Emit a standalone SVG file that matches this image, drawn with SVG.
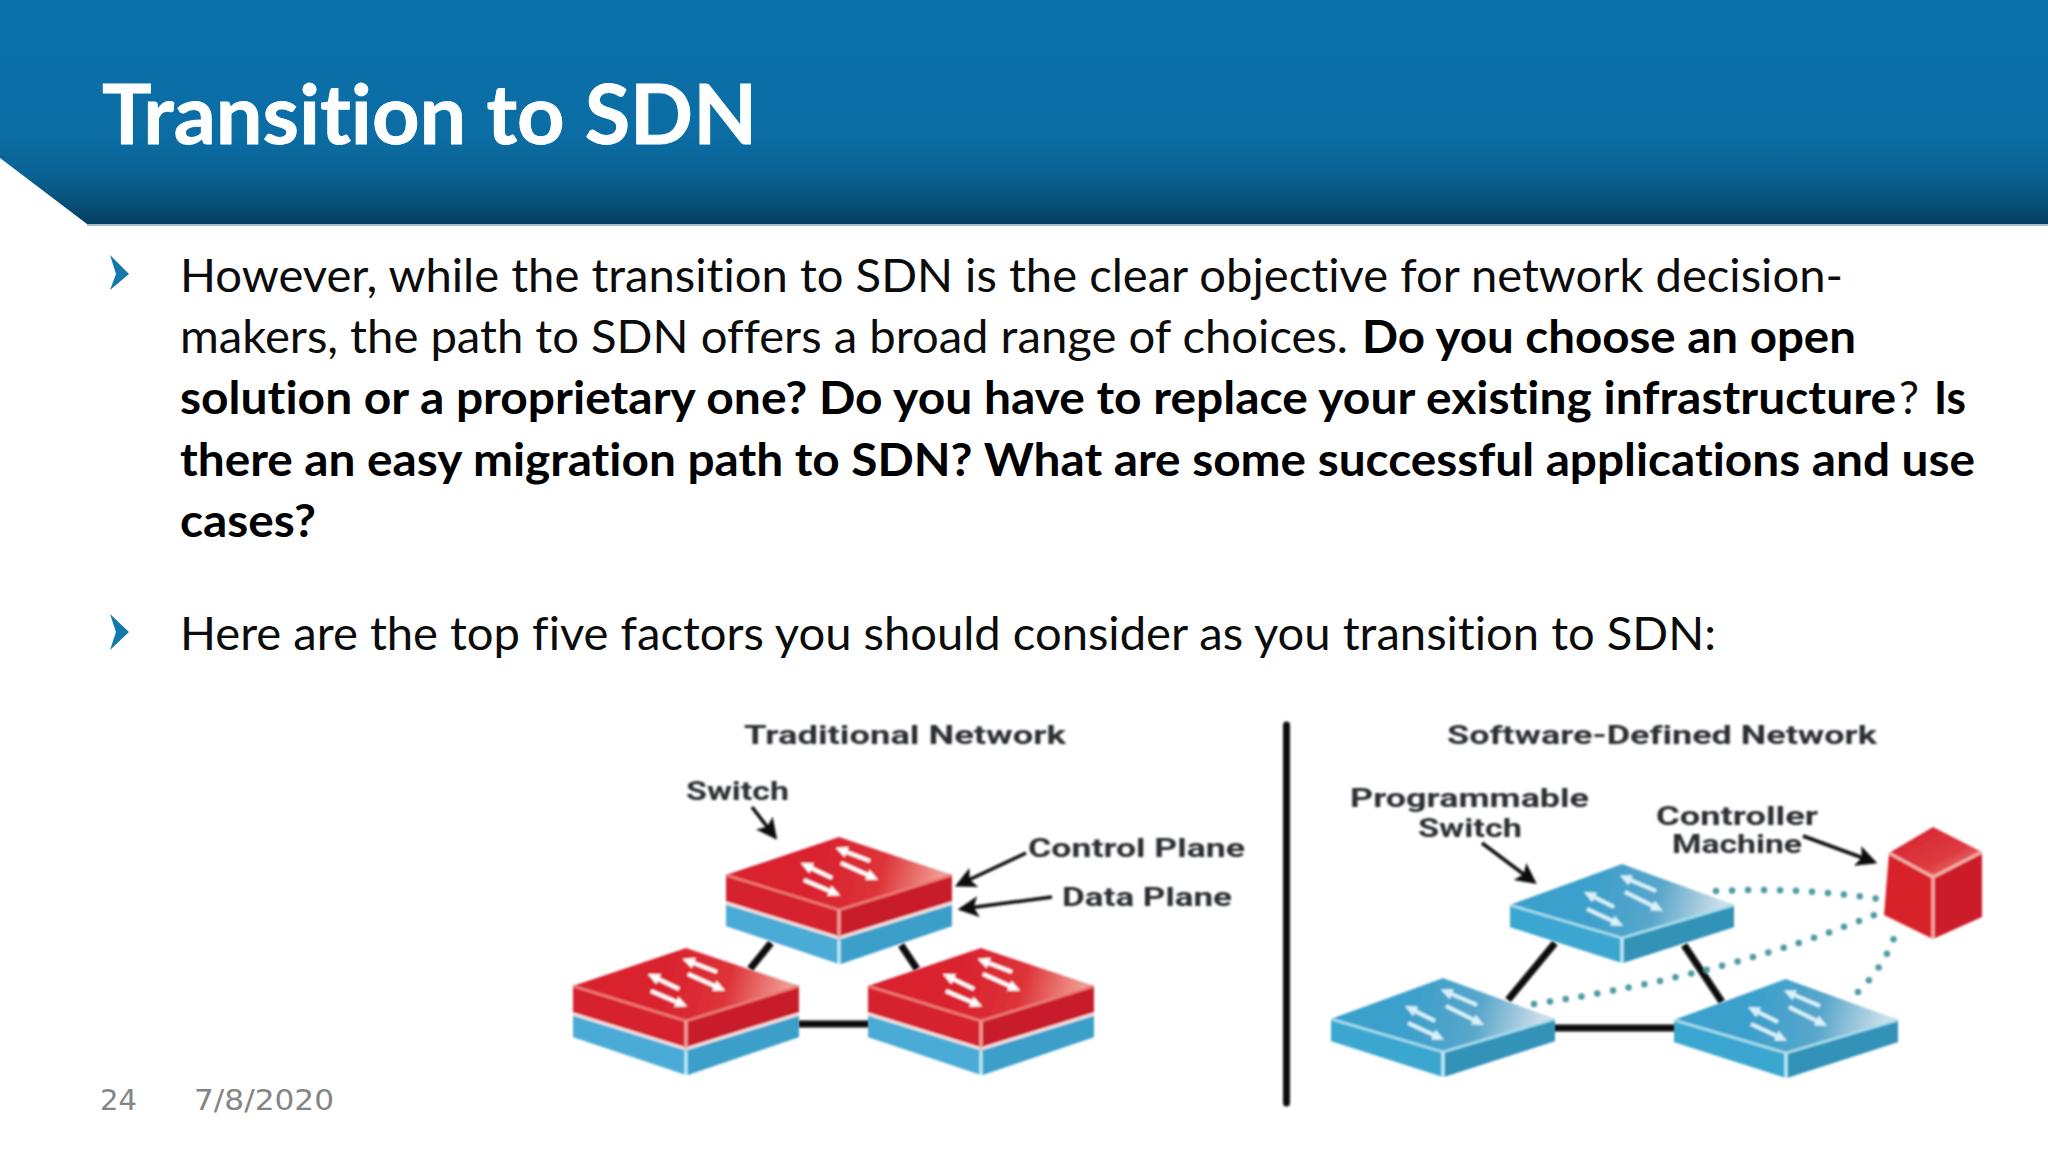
<svg xmlns="http://www.w3.org/2000/svg" width="2048" height="1152" viewBox="0 0 2048 1152">
<style>
text{font-family:"Lato","Open Sans","Liberation Sans",sans-serif;font-variant-ligatures:none}
.title{font-size:83px;font-weight:700;fill:#fff;stroke:#fff;stroke-width:0.8}
.b{font-size:46px;fill:#0c0c0c}
.bb{font-size:46px;font-weight:700;fill:#000}
.foot{font-family:"DejaVu Sans",sans-serif;font-size:29px;fill:#858585}
.lab{font-family:"Roboto","Liberation Sans",sans-serif;font-weight:700;font-size:26px;fill:#2b2d33}
.link{stroke:#0a0a0a;stroke-width:7;fill:none}
.call{stroke:#0d0d0d;stroke-width:3.5;fill:none;marker-end:url(#ah)}
.dot{stroke:#4f9aa3;stroke-width:6.5;stroke-linecap:round;stroke-dasharray:0 16;fill:none}
.glyph{stroke:#fff;stroke-width:4;fill:none;marker-end:url(#wh)}
.glyphb{stroke:#d8f2fa;stroke-width:4;fill:none;marker-end:url(#bh)}
.soft{filter:url(#sf)}
</style>
<defs>
<filter id="sf" x="-5%" y="-5%" width="110%" height="110%"><feGaussianBlur stdDeviation="0.8"/></filter>
<linearGradient id="band" x1="0" y1="0" x2="0" y2="1">
<stop offset="0" stop-color="#0b70aa"/><stop offset="0.6" stop-color="#0b6da4"/><stop offset="0.78" stop-color="#0a6293"/><stop offset="0.92" stop-color="#064d75"/><stop offset="1" stop-color="#043f61"/>
</linearGradient>
<linearGradient id="redTop" x1="0.35" y1="0.5" x2="0.95" y2="0.55"><stop offset="0" stop-color="#d9202e"/><stop offset="0.55" stop-color="#dd3238"/><stop offset="1" stop-color="#f09c92"/></linearGradient>
<linearGradient id="bluTop" x1="0.35" y1="0.5" x2="0.95" y2="0.55"><stop offset="0" stop-color="#3ba0cb"/><stop offset="0.5" stop-color="#58a6cb"/><stop offset="1" stop-color="#cfdfe9"/></linearGradient>
<linearGradient id="boxTop" x1="0" y1="0" x2="1" y2="1"><stop offset="0" stop-color="#d3202c"/><stop offset="0.6" stop-color="#dd3a40"/><stop offset="1" stop-color="#f09a92"/></linearGradient>
<marker id="ah" markerWidth="6" markerHeight="6" refX="5" refY="3" orient="auto"><path d="M0,0L6,3L0,6L1.3,3Z" fill="#0d0d0d"/></marker>
<marker id="wh" markerUnits="userSpaceOnUse" markerWidth="12" markerHeight="12" refX="3" refY="6" orient="auto"><path d="M0,0.5L12,6L0,11.5Z" fill="#fff"/></marker>
<marker id="bh" markerUnits="userSpaceOnUse" markerWidth="12" markerHeight="12" refX="3" refY="6" orient="auto"><path d="M0,0.5L12,6L0,11.5Z" fill="#d8f2fa"/></marker>
<g id="redSwitch">
<path d="M0,0L113,37L113,88L2,126L-113,88L-113,37Z" fill="#3fa6d3"/>
<path d="M-113,37L0,72L0,126L-113,88Z" fill="#48abd6"/>
<path d="M0,72L113,37L113,88L0,126Z" fill="#3b9fca"/>
<path d="M0,-1L113,37L0,72L-113,37Z" fill="url(#redTop)"/>
<path d="M-113,37L0,72L0,100L-113,65Z" fill="#d5202d"/>
<path d="M0,72L113,37L113,65L0,100Z" fill="#c91f2b"/>
<path d="M-113,37L0,72L113,37" stroke="#ee7d78" stroke-width="2.5" fill="none"/>
<path d="M-113,65L0,100L113,65" stroke="#f5e5e3" stroke-width="3" fill="none"/>
<path d="M0,72V100" stroke="#f2a6a0" stroke-width="3"/>
<path d="M0,102V126" stroke="#c6f0fa" stroke-width="3"/>
<path class="glyph" d="M31,23L5,13"/><path class="glyph" d="M2,25L31,38"/><path class="glyph" d="M-7,40L-30,29"/><path class="glyph" d="M-35,42L-7,54"/>
</g>
<g id="blueSwitch">
<path d="M0,0L112,40L112,62L1,98L-112,62L-112,40Z" fill="#3fa6d3"/>
<path d="M-112,40L0,73L0,98L-112,62Z" fill="#3ba7d0"/>
<path d="M0,73L112,40L112,62L0,98Z" fill="#3392b8"/>
<path d="M0,-1L112,40L0,73L-112,40Z" fill="url(#bluTop)"/>
<path d="M-112,40L0,73L112,40" stroke="#a9e0ef" stroke-width="2.5" fill="none"/>
<path d="M0,73V98" stroke="#c6f0fa" stroke-width="3"/>
<path class="glyphb" d="M34,26L6,14"/><path class="glyphb" d="M3,27L33,42"/><path class="glyphb" d="M-8,42L-30,31"/><path class="glyphb" d="M-35,44L-7,57"/>
</g>
</defs>
<rect width="2048" height="1152" fill="#fff"/>
<path id="band-edge" d="M87,226H2048V220H87Z" fill="#a5bccb"/>
<path id="header" d="M0,0H2048V224H87L0,158Z" fill="url(#band)"/>
<text class="title" x="102" y="144" textLength="655" lengthAdjust="spacingAndGlyphs">Transition to SDN</text>

<path id="bullet1" d="M110,255L129,274L110,290L116,274Z" fill="#1378ab"/>
<path id="bullet2" d="M110,614L129,632L110,650L116,632Z" fill="#1378ab"/>
<text class="b" x="180" y="292" textLength="1663" lengthAdjust="spacingAndGlyphs">However, while the transition to SDN is the clear objective for network decision-</text>
<text class="b" x="180" y="353" textLength="1168" lengthAdjust="spacingAndGlyphs">makers, the path to SDN offers a broad range of choices.</text>
<text class="bb" x="1362" y="353" textLength="494" lengthAdjust="spacingAndGlyphs">Do you choose an open</text>
<text class="bb" x="180" y="414" textLength="1716" lengthAdjust="spacingAndGlyphs">solution or a proprietary one? Do you have to replace your existing infrastructure</text>
<text class="b" x="1899" y="414" textLength="20" lengthAdjust="spacingAndGlyphs">?</text>
<text class="bb" x="1934" y="414" textLength="32" lengthAdjust="spacingAndGlyphs">Is</text>
<text class="bb" x="180" y="476" textLength="1795" lengthAdjust="spacingAndGlyphs">there an easy migration path to SDN? What are some successful applications and use</text>
<text class="bb" x="180" y="537" textLength="136" lengthAdjust="spacingAndGlyphs">cases?</text>
<text class="b" x="180" y="650" textLength="1536" lengthAdjust="spacingAndGlyphs">Here are the top five factors you should consider as you transition to SDN:</text>

<g id="connectors" class="soft">
<path class="link" d="M771,943L750,969"/><path class="link" d="M901,945L917,969"/><path class="link" d="M798,1024H870"/>
<path class="link" d="M1555,943L1508,1000"/><path class="link" d="M1684,945L1722,1002"/><path class="link" d="M1553,1028H1677"/>
<path class="dot" d="M1716,891Q1800,887 1879,899"/>
<path class="dot" d="M1534,1004Q1730,975 1879,913"/>
<path class="dot" d="M1858,992Q1885,965 1895,935"/>
<path class="call" d="M752,807L775,837"/><path class="call" d="M1026,853L958,885"/><path class="call" d="M1052,897L961,909"/>
<path class="call" d="M1482,843L1534,882"/><path class="call" d="M1803,836L1874,862"/>
<path d="M1286.5,725V1103" stroke="#0d0d0d" stroke-width="7" stroke-linecap="round" fill="none"/>
</g>
<g id="trad-switch-top" class="soft"><use href="#redSwitch" x="839" y="838"/></g>
<g id="trad-switch-left" class="soft"><use href="#redSwitch" x="686" y="949"/></g>
<g id="trad-switch-right" class="soft"><use href="#redSwitch" x="981" y="949"/></g>
<g id="sdn-switch-top" class="soft"><use href="#blueSwitch" x="1622" y="865"/></g>
<g id="sdn-switch-left" class="soft"><use href="#blueSwitch" x="1443" y="979"/></g>
<g id="sdn-switch-right" class="soft"><use href="#blueSwitch" x="1786" y="980"/></g>
<g id="controller" class="soft">
<path d="M1933,827L1982,852L1933,877L1889,853Z" fill="url(#boxTop)"/>
<path d="M1889,853L1933,877V939L1884,915Z" fill="#d8202c"/>
<path d="M1933,877L1982,852V917L1933,939Z" fill="#cc1d2a"/>
<path d="M1889,853L1933,877L1982,852M1933,877V939" stroke="#f6b3ac" stroke-width="3" fill="none"/>
</g>
<g id="labels" class="soft">
<text class="lab" x="744" y="744" textLength="322" lengthAdjust="spacingAndGlyphs">Traditional Network</text>
<text class="lab" x="686" y="800" textLength="103" lengthAdjust="spacingAndGlyphs">Switch</text>
<text class="lab" x="1028" y="857" textLength="217" lengthAdjust="spacingAndGlyphs">Control Plane</text>
<text class="lab" x="1062" y="906" textLength="170" lengthAdjust="spacingAndGlyphs">Data Plane</text>
<text class="lab" x="1447" y="744" textLength="430" lengthAdjust="spacingAndGlyphs">Software-Defined Network</text>
<text class="lab" x="1350" y="807" textLength="239" lengthAdjust="spacingAndGlyphs">Programmable</text>
<text class="lab" x="1418" y="837" textLength="104" lengthAdjust="spacingAndGlyphs">Switch</text>
<text class="lab" x="1656" y="825" textLength="162" lengthAdjust="spacingAndGlyphs">Controller</text>
<text class="lab" x="1672" y="853" textLength="130" lengthAdjust="spacingAndGlyphs">Machine</text>
</g>
<text class="foot" x="100" y="1110" textLength="37" lengthAdjust="spacingAndGlyphs">24</text>
<text class="foot" x="194" y="1110" textLength="140" lengthAdjust="spacingAndGlyphs">7/8/2020</text>
</svg>
